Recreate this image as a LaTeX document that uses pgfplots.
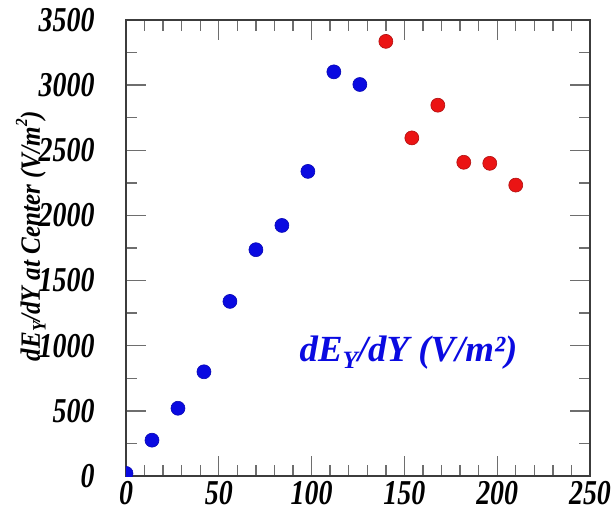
\documentclass[border=0pt]{standalone}
\usepackage{fontspec}
\setmainfont{Liberation Serif}
\newfontfamily\tickfont[FakeStretch=0.8]{Liberation Serif}
\newfontfamily\labelfont[FakeStretch=0.9]{Liberation Serif}
\usepackage{pgfplots}
\pgfplotsset{compat=1.18}
\definecolor{ptblue}{RGB}{10,10,225}
\definecolor{ptred}{RGB}{235,20,20}
\definecolor{axgray}{RGB}{60,60,60}
\definecolor{tkgray}{RGB}{110,110,110}
\begin{document}
\begin{tikzpicture}
\begin{axis}[
  at={(0,0)}, anchor=south west,
  scale only axis,
  width=464bp, height=456bp,
  xmin=0, xmax=250, ymin=0, ymax=3500,
  xtick={0,50,...,250}, ytick={0,500,...,3500},
  minor x tick num=4, minor y tick num=1,
  tick align=inside,
  major tick length=20bp, minor tick length=11bp,
  every tick/.style={tkgray, line width=1.4bp},
  axis line style={axgray, line width=2.6bp},
  /pgf/number format/assume math mode=true,
  /pgf/number format/1000 sep={},
  ticklabel style={font=\fontsize{35}{35}\selectfont\tickfont\bfseries\itshape},
  yticklabel style={anchor=east, xshift=-28bp},
  xticklabel style={yshift=-2bp},
  ylabel={dE\raisebox{-0.45ex}{\fontsize{19}{19}\selectfont Y}/dY at Center (V/m\raisebox{1.0ex}{\fontsize{17}{17}\selectfont 2})},
  ylabel style={font=\fontsize{28}{28}\selectfont\labelfont\bfseries\itshape},
  every axis y label/.append style={at={(rel axis cs:-0.205,0.526)}, anchor=center},
  clip marker paths=true,
]
\addplot[only marks, mark=*, mark size=7bp, ptblue, mark options={fill=ptblue, draw=ptblue!80!black, line width=0.6bp}]
  coordinates {(0,20) (14,275) (28,520) (42,800) (56,1340) (70,1737) (84,1923) (98,2338) (112,3102) (126,3005)};
\addplot[only marks, mark=*, mark size=7bp, ptred, mark options={fill=ptred, draw=ptred!75!black, line width=0.6bp}]
  coordinates {(140,3336) (154,2595) (168,2846) (182,2408) (196,2400) (210,2233)};
\node[anchor=base, text=ptblue, font=\fontsize{37}{37}\selectfont\bfseries\itshape]
  at (rel axis cs:0.609,0.251) {dE\raisebox{-0.4ex}{\fontsize{25}{25}\selectfont Y}/dY (V/m²)};
\end{axis}
\pgfresetboundingbox
\path (-126bp,-45bp) rectangle (486bp,476bp);
\end{tikzpicture}
\end{document}
